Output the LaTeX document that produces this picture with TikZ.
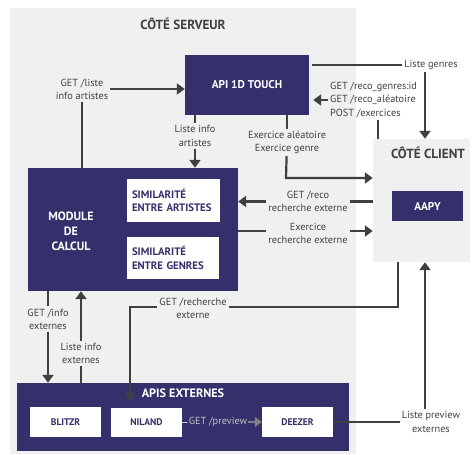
\documentclass[tikz,border=0pt]{standalone}
\usepackage{fontspec}
\setmainfont{PT Sans}
\usetikzlibrary{arrows.meta}
\definecolor{navy}{HTML}{34306B}
\definecolor{panel}{HTML}{F0F0F0}
\definecolor{ink}{HTML}{404040}
\definecolor{pale}{HTML}{C4C4C8}

\begin{document}
\begin{tikzpicture}[x=1pt, y=-1pt,
      zone/.style = {fill=panel, inner sep=0pt},
      bloc/.style = {fill=navy, text=white, inner sep=0pt, align=center,
        font=\bfseries\fontsize{11.3}{13}\selectfont},
      sous/.style = {fill=white, text=navy, inner sep=0pt, align=center,
        font=\bfseries\fontsize{9.6}{12}\selectfont},
      titre/.style = {text=ink, font=\bfseries\fontsize{13.2}{15}\selectfont},
      legende/.style = {text=ink, align=center, inner sep=2pt,
        font=\fontsize{10.3}{13.2}\selectfont},
      trait/.style = {draw=ink, line width=2.2pt},
      fleche/.style = {trait, -{Triangle[width=11pt,length=8pt]}}]
      \useasboundingbox (0,0) rectangle (472,455);
      % zones
      \node[zone, minimum width=346pt, minimum height=446pt] (serveur) at (183,231) {};
      \node[zone, minimum width=97pt, minimum height=123pt] (client) at (421.5,200.5) {};
      \node[titre] (serveur_titre) at (183,24) {CÔTÉ SERVEUR};
      \node[titre] (client_titre) at (428,153) {CÔTÉ CLIENT};
      % blocs
      \node[bloc, minimum width=124pt, minimum height=60pt] (api) at (247,85) {API 1D TOUCH};
      \node[bloc, minimum width=71pt, minimum height=30pt] (aapy) at (427.5,206) {AAPY};
      \node[bloc, minimum width=210pt, minimum height=123pt] (module) at (133,229.5) {};
      \node[text=white, align=center, font=\bfseries\fontsize{12}{15}\selectfont] (module_titre) at (71,231) {MODULE\\DE\\CALCUL};
      \node[sous, align=left, text width=83pt, inner xsep=5pt, minimum height=43pt,
        font=\bfseries\fontsize{10.8}{13.5}\selectfont] (sim_artistes) at (173.5,200.5) {SIMILARITÉ\\ENTRE ARTISTES};
      \node[sous, align=left, text width=82pt, inner xsep=5pt, minimum height=42pt,
        font=\bfseries\fontsize{10.8}{13.5}\selectfont] (sim_genres) at (173,258) {SIMILARITÉ\\ENTRE GENRES};
      \node[bloc, minimum width=332pt, minimum height=68pt] (apis) at (183,417) {};
      \node[text=white, font=\bfseries\fontsize{12.2}{14}\selectfont] (apis_titre) at (183,393) {APIS EXTERNES};
      \node[sous, minimum width=71pt, minimum height=30pt] (blitzr) at (65.5,422) {BLITZR};
      \node[sous, minimum width=71pt, minimum height=29pt] (niland) at (146.5,422.5) {NILAND};
      \node[sous, minimum width=71pt, minimum height=30pt] (deezer) at (297.5,422) {DEEZER};
      % legendes
      \node[legende] (lbl_liste) at (82,89) {GET /liste\\info artistes};
      \node[legende] (lbl_infoart) at (195,136) {Liste info\\artistes};
      \node[legende] (lbl_genres) at (431,65) {Liste genres};
      \node[legende, anchor=west, align=left] (lbl_reco) at (328,100) {GET /reco\_genres:id\\GET /reco\_aléatoire\\POST /exercices};
      \node[legende] (lbl_exo) at (287,142.5) {Exercice aléatoire\\Exercice genre};
      \node[legende] (lbl_recoext) at (308,201.5) {GET /reco\\recherche externe};
      \node[legende] (lbl_exoext) at (308,233.5) {Exercice\\recherche externe};
      \node[legende] (lbl_rech) at (193,308.5) {GET /recherche\\externe};
      \node[legende] (lbl_infoext) at (48,319) {GET /info\\externes};
      \node[legende] (lbl_listext) at (81,353.5) {Liste info\\externes};
      \node[legende] (lbl_preview) at (431,422) {Liste preview\\externes};
      \node[legende, text=pale, inner sep=1pt] (lbl_getprev) at (218,422) {GET /preview};
      % coudes
      \coordinate (genres_bas) at (425,0);
      \coordinate (reco_haut) at (378,0);
      \coordinate (exo_coude) at (286,178);
      \coordinate (rech_droite) at (398,307);
      \coordinate (rech_gauche) at (130,307);
      \coordinate (rech_fin) at (130,401);
      \coordinate (preview_haut) at (425,0);
      % liaisons
      \draw[trait] (module.north -| lbl_liste) -- (lbl_liste);
      \draw[fleche] (lbl_liste) -- (lbl_liste -| api.west);
      \draw[trait] (api.south -| lbl_infoart) -- (lbl_infoart);
      \draw[fleche] (lbl_infoart) -- (lbl_infoart |- module.north);
      \draw[trait] ([xshift=3pt]api.east |- lbl_genres) -- (lbl_genres);
      \draw[fleche] (lbl_genres.south -| genres_bas) -- (client.north -| genres_bas);
      \draw[trait] (client.north -| reco_haut) -- (lbl_reco.south -| reco_haut);
      \draw[fleche] (lbl_reco.west) -- ([xshift=4pt]api.east |- lbl_reco.west);
      \draw[trait] (api.south -| lbl_exo) -- (lbl_exo);
      \draw[fleche] (lbl_exo) -- (exo_coude) -- (exo_coude -| client.west);
      \draw[trait] (client.west |- lbl_recoext) -- (lbl_recoext);
      \draw[fleche] (lbl_recoext) -- (lbl_recoext -| module.east);
      \draw[trait] (module.east |- exo_coude) ++(0,53) coordinate (exo_dep) -- (exo_dep -| lbl_exoext.west);
      \draw[fleche] (exo_dep -| lbl_exoext.east) -- (exo_dep -| client.west);
      \draw[trait] (client.south -| rech_droite) -- (rech_droite) -- (rech_droite -| lbl_rech.east);
      \draw[fleche] (rech_gauche -| lbl_rech.west) -- (rech_gauche) -- (rech_fin);
      \draw[trait] (module.south -| lbl_infoext) -- (lbl_infoext);
      \draw[fleche] (lbl_infoext) -- (lbl_infoext |- apis.north);
      \draw[trait] (apis.north -| lbl_listext) -- (lbl_listext);
      \draw[fleche] (lbl_listext) -- (lbl_listext |- module.south);
      \draw[trait] (deezer.east) -- (lbl_preview);
      \draw[fleche] (lbl_preview.north -| preview_haut) -- (client.south -| preview_haut);
      \draw[draw=pale, line width=0.8pt] (niland.east) -- (lbl_getprev);
      \draw[draw=gray, line width=2pt, -{Triangle[width=10pt,length=7pt]}] (lbl_getprev) -- (deezer);
  \end{tikzpicture}
\end{document}
